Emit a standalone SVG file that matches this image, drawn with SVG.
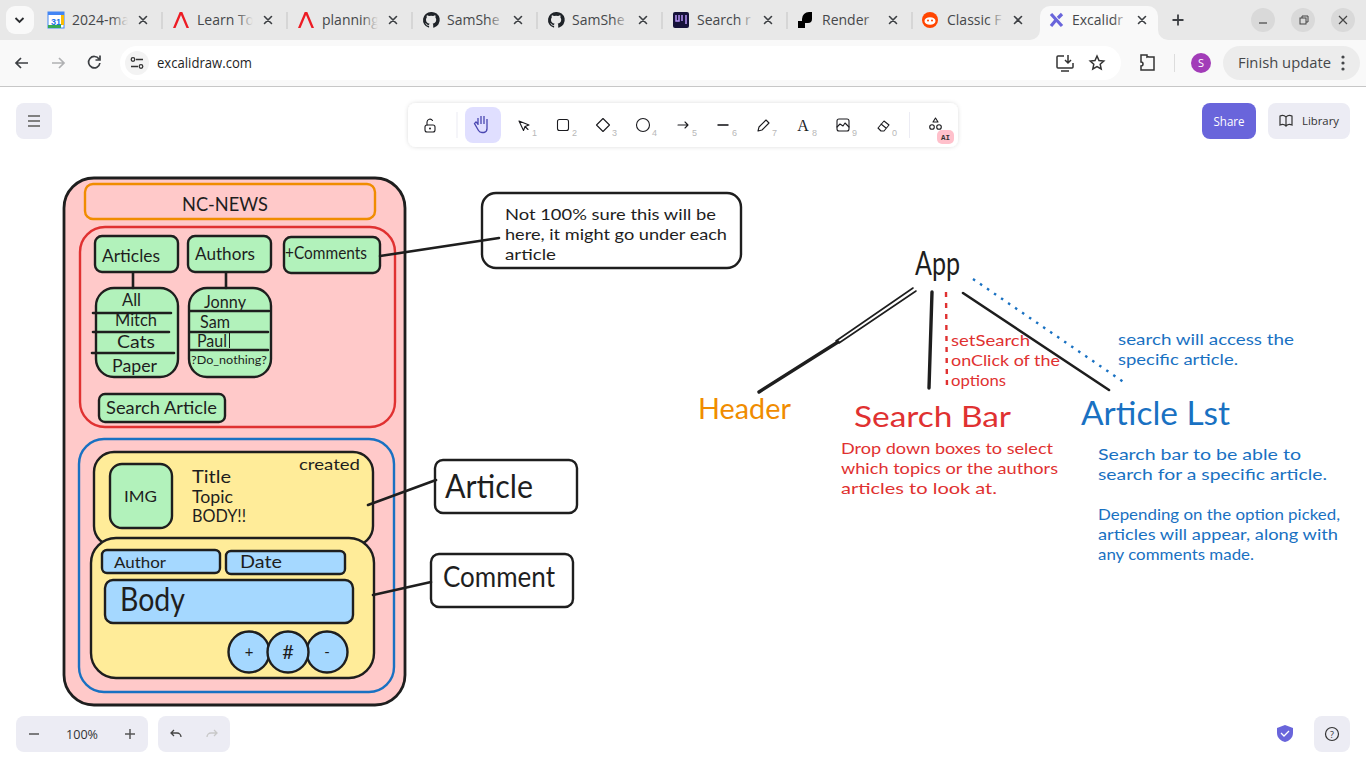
<svg xmlns="http://www.w3.org/2000/svg" width="1366" height="768" viewBox="0 0 1366 768">
<style>
.ui{font-family:"Open Sans","Noto Sans","Liberation Sans",sans-serif}
.tab{font-size:14px;fill:#45474a}
.x{stroke:#3c3f43;stroke-width:1.6;fill:none;stroke-linecap:round}
.ic{stroke:#1b1b1f;stroke-width:1.1;fill:none;stroke-linejoin:round;stroke-linecap:round}
.num{font-size:9px;fill:#b8b8b8;font-family:"Liberation Sans",sans-serif}
.h{font-family:"Lato","Noto Sans",sans-serif;fill:#1e1e1e}
.s{stroke:#1e1e1e;stroke-width:2.4;stroke-linejoin:round}
.g{fill:#b2f2bb}.y{fill:#ffec99}.b{fill:#a5d8ff}.w{fill:#fff}
.cn{stroke:#1e1e1e;stroke-width:2.6;stroke-linecap:round;fill:none}
.r{fill:#e03131}.bl{fill:#1971c2}.o{fill:#f08c00}
.pn{fill:#ececf4}
</style>
<defs>
<linearGradient id="fd"><stop offset="0" stop-color="#e8e8e8" stop-opacity="0"/><stop offset="1" stop-color="#e8e8e8"/></linearGradient>
<linearGradient id="fa"><stop offset="0" stop-color="#f9f9f9" stop-opacity="0"/><stop offset="1" stop-color="#f9f9f9"/></linearGradient>
<filter id="sh" x="-5%" y="-30%" width="110%" height="160%"><feDropShadow dx="0" dy="0" stdDeviation="2" flood-color="#000" flood-opacity=".14"/></filter>
<path id="gh" d="M0-8a8 8 0 0 0-2.500 15.600c.4.1.6-.2.6-.4v-1.500c-2.200.5-2.700-.9-2.700-.9-.4-.9-.9-1.100-.9-1.100-.7-.5 0-.5 0-.5.8 0 1.200.8 1.200.8.7 1.300 1.900.9 2.400.7.1-.6.3-.9.5-1.100-1.800-.2-3.600-.9-3.600-4 0-.9.3-1.600.8-2.200-.1-.2-.3-1 .1-2.100 0 0 .7-.2 2.200.8a7.500 7.500 0 0 1 4 0c1.500-1 2.200-.8 2.200-.8.4 1.100.2 1.900.1 2.100.5.600.8 1.300.8 2.200 0 3.100-1.800 3.800-3.600 4 .3.200.6.800.6 1.500v2.200c0 .2.200.5.6.4A8 8 0 0 0 0-8z" fill="#1f2328"/>
<path id="ang" d="M-8 8L-1.300-8H1.300L8 8H5.500L0-5L-5.500 8z" fill="#ed1c24"/>
<path id="cl" d="M-3.500-3.500L3.500 3.500M3.500-3.500L-3.500 3.500" class="x"/>
</defs>

<g id="browser">
<rect width="1366" height="40" fill="#e8e8e8"/>
<rect y="40" width="1366" height="46" fill="#f9f9f9"/>
<rect y="86" width="1366" height="1" fill="#c7c7c7"/>
<rect x="6" y="6" width="28" height="28" rx="9" fill="#f9f9f9"/>
<path d="M15.500 18L19.500 22L23.500 18" fill="none" stroke="#2b2d30" stroke-width="1.800"/>
<g fill="#c4c4c4"><rect x="161.500" y="12" width="1" height="17"/><rect x="286.500" y="12" width="1" height="17"/><rect x="411.500" y="12" width="1" height="17"/><rect x="536.500" y="12" width="1" height="17"/><rect x="661.500" y="12" width="1" height="17"/><rect x="786.500" y="12" width="1" height="17"/><rect x="911.500" y="12" width="1" height="17"/></g>
<path d="M1030 40a10 10 0 0 0 10-10V16a10 10 0 0 1 10-10h98a10 10 0 0 1 10 10v14a10 10 0 0 0 10 10z" fill="#f9f9f9"/>
<g id="tab-icons">
<rect x="48" y="12" width="16" height="16" fill="#fff" stroke="#4285f4" stroke-width="1"/><rect x="48" y="25" width="13" height="3" fill="#34a853"/><rect x="61" y="15" width="3" height="10" fill="#fbbc04"/><rect x="48" y="12" width="16" height="3" fill="#4285f4"/>
<text x="56" y="24.500" font-size="9" font-weight="700" text-anchor="middle" fill="#1a73e8" font-family="Liberation Sans,sans-serif">31</text>
<use href="#ang" x="181" y="20"/><use href="#ang" x="306" y="20"/>
<use href="#gh" x="431" y="20"/><use href="#gh" x="556" y="20"/>
<rect x="673" y="12" width="16" height="16" rx="2" fill="#16123a"/><path d="M676 15v6h3v-6M682 15v6M686 15v9" stroke="#b794f6" stroke-width="1.500" fill="none"/>
<path d="M798 21h4v-2a7 7 0 0 1 7-7h3v7a4 4 0 0 1-4 4h-3v5h-7z" fill="#000"/>
<circle cx="930" cy="20" r="8" fill="#ff4500"/><ellipse cx="930" cy="21" rx="5.500" ry="3.800" fill="#fff"/><circle cx="928" cy="20.500" r="1" fill="#ff4500"/><circle cx="932" cy="20.500" r="1" fill="#ff4500"/>
<path d="M1051 14L1062 26M1062 14L1058 18M1051 26L1056 20" stroke="#6965db" stroke-width="3.200" fill="none"/>
</g>
<g class="ui tab">
<text x="72" y="25">2024-ma</text><text x="197" y="25">Learn To</text><text x="322" y="25">planning</text><text x="447" y="25">SamShe</text><text x="572" y="25">SamShe</text><text x="697" y="25">Search r</text><text x="822" y="25">Render</text><text x="947" y="25">Classic F</text><text x="1072" y="25">Excalidr</text>
</g>
<rect x="112" y="10" width="16" height="22" fill="url(#fd)"/><rect x="237" y="10" width="16" height="22" fill="url(#fd)"/><rect x="362" y="10" width="16" height="22" fill="url(#fd)"/><rect x="488" y="10" width="16" height="22" fill="url(#fd)"/><rect x="613" y="10" width="16" height="22" fill="url(#fd)"/><rect x="738" y="10" width="16" height="22" fill="url(#fd)"/><rect x="863" y="10" width="16" height="22" fill="url(#fd)"/><rect x="988" y="10" width="16" height="22" fill="url(#fd)"/><rect x="1113" y="10" width="16" height="22" fill="url(#fa)"/>
<rect x="128" y="10" width="8" height="22" fill="#e8e8e8"/><rect x="253" y="10" width="8" height="22" fill="#e8e8e8"/><rect x="378" y="10" width="8" height="22" fill="#e8e8e8"/><rect x="504" y="10" width="6" height="22" fill="#e8e8e8"/><rect x="629" y="10" width="6" height="22" fill="#e8e8e8"/><rect x="754" y="10" width="8" height="22" fill="#e8e8e8"/><rect x="879" y="10" width="8" height="22" fill="#e8e8e8"/><rect x="1004" y="10" width="8" height="22" fill="#e8e8e8"/><rect x="1129" y="10" width="5" height="22" fill="#f9f9f9"/>
<use href="#cl" x="143" y="20"/><use href="#cl" x="268" y="20"/><use href="#cl" x="393" y="20"/><use href="#cl" x="518" y="20"/><use href="#cl" x="643" y="20"/><use href="#cl" x="768" y="20"/><use href="#cl" x="893" y="20"/><use href="#cl" x="1018" y="20"/><use href="#cl" x="1142" y="20"/>
<path d="M1178 14.500v11M1172.500 20h11" stroke="#3c3f43" stroke-width="1.800" fill="none"/>
<circle cx="1263" cy="20" r="12" fill="#d9d9d9"/><circle cx="1303" cy="20" r="12" fill="#d9d9d9"/><circle cx="1343" cy="20" r="12" fill="#d9d9d9"/>
<path d="M1259 23h8" stroke="#444" stroke-width="1.200"/><rect x="1300" y="18" width="6" height="6" fill="none" stroke="#444"/><path d="M1302 18v-2h6v6h-2" fill="none" stroke="#444"/><path d="M1339 16L1347 24M1347 16L1339 24" stroke="#444" stroke-width="1.200"/>
<rect x="120" y="46" width="1001" height="34" rx="17" fill="#fff"/>
<path d="M28 63H16M21 58l-5 5 5 5" fill="none" stroke="#3c3f43" stroke-width="1.700"/>
<path d="M52 63H64M59 58l5 5-5 5" fill="none" stroke="#b0b1b3" stroke-width="1.700"/>
<path d="M99 59a5.700 5.700 0 1 0 .9 4M100 55.500v4.500h-4.500" fill="none" stroke="#3c3f43" stroke-width="1.700"/>
<circle cx="137" cy="63" r="12" fill="#f3f3f3"/>
<path d="M136 59.500h7M131 66.500h7" stroke="#333" stroke-width="1.500"/><circle cx="133" cy="59.500" r="1.800" fill="none" stroke="#333" stroke-width="1.300"/><circle cx="141" cy="66.500" r="1.800" fill="none" stroke="#333" stroke-width="1.300"/>
<text x="157" y="67.500" class="ui" font-size="14" fill="#1f1f1f" textLength="95" lengthAdjust="spacingAndGlyphs">excalidraw.com</text>
<path d="M1064 56h-6a1 1 0 0 0-1 1v10a1 1 0 0 0 1 1h14a1 1 0 0 0 1-1v-4M1061 71h8M1068 55v8M1065 60l3 3 3-3" fill="none" stroke="#333" stroke-width="1.500"/>
<path d="M1097 56l2 4.500 4.800.5-3.600 3.300 1 4.700-4.200-2.400-4.200 2.400 1-4.700-3.600-3.300 4.800-.5z" fill="none" stroke="#333" stroke-width="1.500"/>
<path d="M1141 55h6v2a2 2 0 0 1 2 0h5v13h-13v-4a2 2 0 0 0 0-4z" fill="none" stroke="#333" stroke-width="1.500"/>
<rect x="1174" y="54" width="1" height="18" fill="#ddd"/>
<circle cx="1201" cy="63" r="10" fill="#a23cb8"/><text x="1201" y="67" text-anchor="middle" font-size="11" fill="#fff" class="ui">S</text>
<rect x="1223" y="46" width="137" height="34" rx="17" fill="#ececec"/>
<text x="1238" y="67.500" class="ui" font-size="15" fill="#45474a" textLength="93" lengthAdjust="spacingAndGlyphs">Finish update</text>
<g fill="#45474a"><circle cx="1343" cy="57" r="1.600"/><circle cx="1343" cy="63" r="1.600"/><circle cx="1343" cy="69" r="1.600"/></g>
</g>

<g id="excalidraw-ui">
<rect x="16" y="103" width="36" height="36" rx="8" class="pn"/>
<path d="M28 116h12M28 121h12M28 126h12" stroke="#808080" stroke-width="2"/>
<rect x="408" y="103" width="550" height="44" rx="8" fill="#fff" filter="url(#sh)"/>
<rect x="456.500" y="112" width="1" height="26" fill="#ececf4"/><rect x="909" y="112" width="1" height="26" fill="#ececf4"/>
<rect x="465" y="107" width="36" height="36" rx="8" fill="#e0dfff"/>
<rect x="425" y="125" width="10" height="7" rx="2" class="ic"/><path d="M427 125v-3a3 3 0 0 1 5.500-1.500" class="ic"/><circle cx="430" cy="128.500" r="1" fill="#1b1b1f"/>
<path d="M478 125v-7M481 124v-8M484 124v-8M487 125v-6M478 124l-2-2-1.500 1.500 4 7a4 4 0 0 0 3.500 2h2a4 4 0 0 0 3-4v-4" fill="none" stroke="#4a47b1" stroke-width="1.300"/>
<path d="M519 121l10 4-4 1.500-1.500 4zM525 126.500l3 3" class="ic"/>
<rect x="557.500" y="119.500" width="11" height="11" rx="2" class="ic"/>
<path d="M603 118.500l6.500 6.500-6.500 6.500-6.500-6.500z" class="ic"/>
<circle cx="643" cy="125" r="6.500" class="ic"/>
<path d="M678 125h10M685 122l3 3-3 3" class="ic"/>
<path d="M717.500 125h11" stroke="#1b1b1f" stroke-width="1.600"/>
<path d="M758 131l1-4 7-7 3 3-7 7z" class="ic"/>
<text x="803" y="131" text-anchor="middle" font-size="16" fill="#1b1b1f" font-family="Liberation Serif,serif">A</text>
<rect x="837" y="119" width="12" height="12" rx="2" class="ic"/><path d="M837 127l3-3 3 2 2-3 4 4" class="ic"/>
<path d="M878 128l6-7 5 4-5 6h-3zM881 124l5 4" class="ic"/>
<path d="M935.500 118l2.500 4h-5z" class="ic"/><circle cx="932" cy="127" r="2.300" class="ic"/><circle cx="939" cy="127" r="2.300" class="ic"/>
<rect x="937" y="130" width="17" height="14" rx="5" fill="#ffc0cb"/><text x="945.500" y="140" text-anchor="middle" font-size="7.500" font-weight="700" fill="#333" font-family="Liberation Mono,monospace">AI</text>
<text x="532" y="136" class="num">1</text><text x="572" y="136" class="num">2</text><text x="612" y="136" class="num">3</text><text x="652" y="136" class="num">4</text><text x="692" y="136" class="num">5</text><text x="732" y="136" class="num">6</text><text x="772" y="136" class="num">7</text><text x="812" y="136" class="num">8</text><text x="852" y="136" class="num">9</text><text x="892" y="136" class="num">0</text>
<rect x="1202" y="103" width="54" height="36" rx="8" fill="#6965db"/>
<text x="1229" y="126" text-anchor="middle" class="ui" font-size="12.500" fill="#fff" textLength="31" lengthAdjust="spacingAndGlyphs">Share</text>
<rect x="1268" y="103" width="82" height="36" rx="8" class="pn"/>
<path d="M1286 117a5 5 0 0 0-6-1v9a5 5 0 0 1 6 1 5 5 0 0 1 6-1v-9a5 5 0 0 0-6 1zM1286 117v9" fill="none" stroke="#333" stroke-width="1.200"/>
<text x="1302" y="125" class="ui" font-size="11.500" fill="#333" textLength="37" lengthAdjust="spacingAndGlyphs">Library</text>
<rect x="16" y="716" width="132" height="36" rx="8" class="pn"/>
<rect x="158" y="716" width="72" height="36" rx="8" class="pn"/>
<path d="M29 734h10M125 734h10M130 729v10" stroke="#555" stroke-width="1.500"/>
<text x="82" y="739" text-anchor="middle" class="ui" font-size="12.500" fill="#333" textLength="32" lengthAdjust="spacingAndGlyphs">100%</text>
<path d="M174 730l-3 3 3 3M171 733h6a4 4 0 0 1 4 4" fill="none" stroke="#444" stroke-width="1.300"/>
<path d="M214 730l3 3-3 3M217 733h-6a4 4 0 0 0-4 4" fill="none" stroke="#c8c8c8" stroke-width="1.300"/>
<path d="M1285 725l8 3v5c0 5-4 8-8 9-4-1-8-4-8-9v-5z" fill="#6965db"/><path d="M1281 733l3 3 5-5" fill="none" stroke="#fff" stroke-width="1.300"/>
<rect x="1314" y="716" width="36" height="36" rx="8" class="pn"/>
<circle cx="1332" cy="734" r="6.500" fill="none" stroke="#333" stroke-width="1.200"/><text x="1332" y="737.500" text-anchor="middle" font-size="9" fill="#333" class="ui">?</text>
</g>

<g id="page" fill="none">
<rect x="64" y="178" width="341" height="527" rx="30" fill="#ffc9c9" stroke="#1e1e1e" stroke-width="2.800"/>
</g>
<g id="header-box"><rect x="85" y="184" width="290" height="35" rx="8" fill="none" stroke="#f08c00" stroke-width="2.400"/><text x="182" y="211" class="h" font-size="20" textLength="86" lengthAdjust="spacingAndGlyphs">NC-NEWS</text></g>
<g id="search-region"><rect x="80" y="227" width="315" height="200" rx="25" fill="none" stroke="#e03131" stroke-width="2.400"/></g>
<g id="article-region"><rect x="79" y="439" width="315" height="253" rx="25" fill="none" stroke="#1971c2" stroke-width="2.400"/></g>

<g id="articles"><rect x="95" y="236" width="83" height="36" rx="7" class="g s"/><text x="102" y="262" class="h" font-size="18" textLength="58" lengthAdjust="spacingAndGlyphs">Articles</text></g>
<g id="authors"><rect x="188" y="236" width="83" height="36" rx="7" class="g s"/><text x="195" y="260" class="h" font-size="18" textLength="60" lengthAdjust="spacingAndGlyphs">Authors</text></g>
<g id="comments-btn"><rect x="284" y="237" width="96" height="36" rx="7" class="g s"/><text x="285" y="259" class="h" font-size="17" textLength="82" lengthAdjust="spacingAndGlyphs">+Comments</text></g>
<g id="articles-list"><rect x="96" y="288" width="82" height="89" rx="18" class="g s"/>
<path class="cn" d="M93 313H171M93 332H169M92 353H174"/>
<text x="122" y="306" class="h" font-size="17" textLength="19" lengthAdjust="spacingAndGlyphs">All</text><text x="115" y="326" class="h" font-size="17" textLength="42" lengthAdjust="spacingAndGlyphs">Mitch</text><text x="117" y="348" class="h" font-size="17" textLength="38" lengthAdjust="spacingAndGlyphs">Cats</text><text x="112" y="372" class="h" font-size="17" textLength="45" lengthAdjust="spacingAndGlyphs">Paper</text></g>
<g id="authors-list"><rect x="189" y="288" width="82" height="89" rx="18" class="g s"/>
<path class="cn" d="M190 311H269M190 332H268M190 350H268"/>
<path d="M229.500 333V348" stroke="#1e1e1e" stroke-width="1"/>
<text x="204" y="308" class="h" font-size="17" textLength="42" lengthAdjust="spacingAndGlyphs">Jonny</text><text x="200" y="328" class="h" font-size="17" textLength="30" lengthAdjust="spacingAndGlyphs">Sam</text><text x="197" y="347" class="h" font-size="17" textLength="30" lengthAdjust="spacingAndGlyphs">Paul</text><text x="191" y="364" class="h" font-size="12" textLength="76" lengthAdjust="spacingAndGlyphs">?Do_nothing?</text></g>
<g id="search-article"><rect x="99" y="394" width="126" height="28" rx="6" class="g s"/><text x="106" y="414" class="h" font-size="17" textLength="111" lengthAdjust="spacingAndGlyphs">Search Article</text></g>

<g id="article-card"><rect x="94" y="452" width="279" height="94" rx="20" class="y s"/>
<text x="299" y="470" class="h" font-size="16" textLength="61" lengthAdjust="spacingAndGlyphs">created</text>
<text x="192" y="483" class="h" font-size="17" textLength="39" lengthAdjust="spacingAndGlyphs">Title</text><text x="192" y="503" class="h" font-size="17" textLength="41" lengthAdjust="spacingAndGlyphs">Topic</text><text x="192" y="522" class="h" font-size="17" textLength="54" lengthAdjust="spacingAndGlyphs">BODY!!</text></g>
<g id="img"><rect x="110" y="464" width="62" height="64" rx="12" class="g s"/><text x="124" y="502" class="h" font-size="16" textLength="33" lengthAdjust="spacingAndGlyphs">IMG</text></g>
<g id="comment-card"><rect x="91" y="538" width="283" height="140" rx="25" class="y s"/></g>
<g id="author"><rect x="102" y="550" width="118" height="23" rx="5" class="b s"/><text x="114" y="568" class="h" font-size="16" textLength="52" lengthAdjust="spacingAndGlyphs">Author</text></g>
<g id="date"><rect x="226" y="551" width="119" height="23" rx="5" class="b s"/><text x="240" y="568" class="h" font-size="17" textLength="42" lengthAdjust="spacingAndGlyphs">Date</text></g>
<g id="body"><rect x="105" y="580" width="248" height="43" rx="8" class="b s"/><text x="120" y="611" class="h" font-size="32" textLength="65" lengthAdjust="spacingAndGlyphs">Body</text></g>
<g id="plus"><circle cx="249" cy="652" r="20.500" class="b s"/><text x="249" y="657" text-anchor="middle" class="h" font-size="15">+</text></g>
<g id="minus"><circle cx="327" cy="652" r="20.500" class="b s"/><text x="327" y="657" text-anchor="middle" class="h" font-size="15">-</text></g>
<g id="count"><circle cx="288" cy="652" r="20.500" class="b s"/><text x="288" y="659" text-anchor="middle" class="h" font-size="20">#</text></g>

<g id="note"><rect x="482" y="193" width="259" height="75" rx="14" class="w s"/>
<text x="505" y="220" class="h" font-size="16" textLength="211" lengthAdjust="spacingAndGlyphs">Not 100% sure this will be</text><text x="505" y="240" class="h" font-size="16" textLength="222" lengthAdjust="spacingAndGlyphs">here, it might go under each</text><text x="505" y="260" class="h" font-size="16" textLength="51" lengthAdjust="spacingAndGlyphs">article</text></g>
<g id="article-label"><rect x="435" y="460" width="142" height="53" rx="8" class="w s"/><text x="445" y="498" class="h" font-size="32" textLength="88" lengthAdjust="spacingAndGlyphs">Article</text></g>
<g id="comment-label"><rect x="431" y="554" width="142" height="53" rx="8" class="w s"/><text x="443" y="587" class="h" font-size="28" textLength="112" lengthAdjust="spacingAndGlyphs">Comment</text></g>

<g id="app"><text x="915" y="275" class="h" font-size="32" textLength="45" lengthAdjust="spacingAndGlyphs">App</text></g>
<g id="header-node"><text x="698" y="419" class="h o" font-size="28" textLength="93" lengthAdjust="spacingAndGlyphs">Header</text></g>
<g id="search-bar-node"><text x="854" y="427" class="h r" font-size="29" textLength="157" lengthAdjust="spacingAndGlyphs">Search Bar</text>
<text x="841" y="454" class="h r" font-size="16" textLength="212" lengthAdjust="spacingAndGlyphs">Drop down boxes to select</text><text x="841" y="474" class="h r" font-size="16" textLength="217" lengthAdjust="spacingAndGlyphs">which topics or the authors</text><text x="841" y="494" class="h r" font-size="16" textLength="156" lengthAdjust="spacingAndGlyphs">articles to look at.</text>
<text x="951" y="346" class="h r" font-size="16" textLength="79" lengthAdjust="spacingAndGlyphs">setSearch</text><text x="951" y="366" class="h r" font-size="16" textLength="109" lengthAdjust="spacingAndGlyphs">onClick of the</text><text x="951" y="386" class="h r" font-size="16" textLength="55" lengthAdjust="spacingAndGlyphs">options</text></g>
<g id="article-list-node"><text x="1081" y="425" class="h bl" font-size="32" textLength="149" lengthAdjust="spacingAndGlyphs">Article Lst</text>
<text x="1118" y="345" class="h bl" font-size="16" textLength="176" lengthAdjust="spacingAndGlyphs">search will access the</text><text x="1118" y="365" class="h bl" font-size="16" textLength="120" lengthAdjust="spacingAndGlyphs">specific article.</text>
<text x="1098" y="460" class="h bl" font-size="16" textLength="203" lengthAdjust="spacingAndGlyphs">Search bar to be able to</text><text x="1098" y="480" class="h bl" font-size="16" textLength="229" lengthAdjust="spacingAndGlyphs">search for a specific article.</text>
<text x="1098" y="520" class="h bl" font-size="16" textLength="242" lengthAdjust="spacingAndGlyphs">Depending on the option picked,</text><text x="1098" y="540" class="h bl" font-size="16" textLength="240" lengthAdjust="spacingAndGlyphs">articles will appear, along with</text><text x="1098" y="560" class="h bl" font-size="16" textLength="156" lengthAdjust="spacingAndGlyphs">any comments made.</text></g>

<g id="connectors">
<path class="cn" d="M133 273V288M226 273V288"/>
<path class="cn" d="M380 256L499 238M368 505L436 480M373 595L431 582"/>
<path class="cn" d="M963 293L1109 390"/>
<path class="cn" stroke-width="1.600" style="stroke-width:1.600" d="M913 288L836 341M916 291L839 343"/>
<path class="cn" style="stroke-width:3.400" d="M838 342L759 392M932 292L929 388"/>
<path d="M946 292L947 390" stroke="#e03131" stroke-width="2.400" stroke-dasharray="5 6" fill="none"/>
<path d="M973 279L1125 383" stroke="#1971c2" stroke-width="2.400" stroke-dasharray="2.500 6" fill="none"/>
</g>
</svg>
